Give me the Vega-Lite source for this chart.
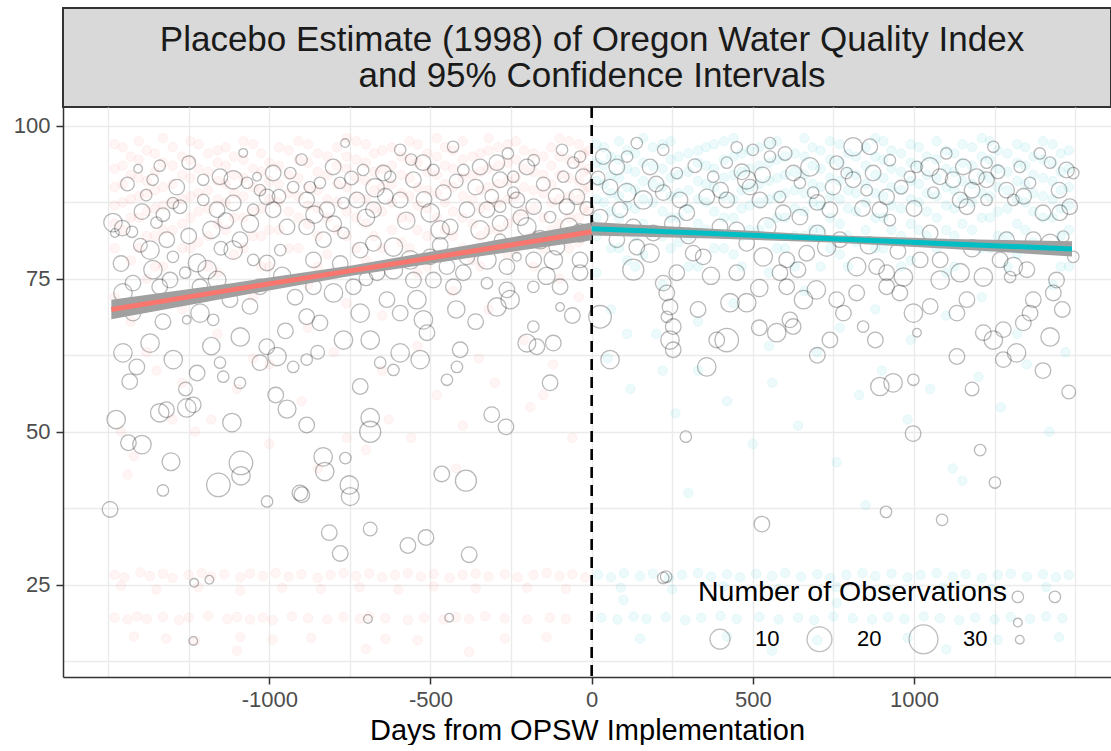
{
  "$schema": "https://vega.github.io/schema/vega-lite/v6.json",
  "background": "white",
  "padding": {"left": 13, "top": 7, "right": 0, "bottom": 0},
  "bounds": "flush",
  "spacing": 0,
  "config": {"font": "Liberation Sans", "view": {"stroke": null}},
  "datasets": {
    "pre": [
      {"x":-1480,"y":97},{"x":-1480,"y":93},{"x":-1480,"y":90},{"x":-1480,"y":87},{"x":-1480,"y":84},{"x":-1480,"y":80},{"x":-1480,"y":72},
      {"x":-1430,"y":95},{"x":-1430,"y":92},{"x":-1430,"y":88},{"x":-1430,"y":85},{"x":-1430,"y":78},{"x":-1430,"y":68},
      {"x":-1380,"y":96},{"x":-1380,"y":91},{"x":-1380,"y":89},{"x":-1380,"y":86},{"x":-1380,"y":82},{"x":-1380,"y":75},{"x":-1380,"y":63},
      {"x":-1330,"y":98},{"x":-1330,"y":94},{"x":-1330,"y":90},{"x":-1330,"y":87},{"x":-1330,"y":83},{"x":-1330,"y":77},
      {"x":-1270,"y":95},{"x":-1270,"y":92},{"x":-1270,"y":88},{"x":-1270,"y":84},{"x":-1270,"y":80},{"x":-1270,"y":70},{"x":-1270,"y":58},
      {"x":-1220,"y":97},{"x":-1220,"y":93},{"x":-1220,"y":89},{"x":-1220,"y":86},{"x":-1220,"y":81},
      {"x":-1160,"y":96},{"x":-1160,"y":94},{"x":-1160,"y":91},{"x":-1160,"y":88},{"x":-1160,"y":84},{"x":-1160,"y":76},{"x":-1160,"y":66},
      {"x":-1110,"y":95},{"x":-1110,"y":92},{"x":-1110,"y":89},{"x":-1110,"y":85},{"x":-1110,"y":79},
      {"x":-1050,"y":97},{"x":-1050,"y":93},{"x":-1050,"y":90},{"x":-1050,"y":86},{"x":-1050,"y":82},{"x":-1050,"y":72},
      {"x":-1000,"y":94},{"x":-1000,"y":91},{"x":-1000,"y":88},{"x":-1000,"y":83},{"x":-1000,"y":77},{"x":-1000,"y":61},
      {"x":-940,"y":96},{"x":-940,"y":92},{"x":-940,"y":89},{"x":-940,"y":86},{"x":-940,"y":80},
      {"x":-880,"y":97},{"x":-880,"y":94},{"x":-880,"y":90},{"x":-880,"y":87},{"x":-880,"y":84},{"x":-880,"y":74},{"x":-880,"y":67},
      {"x":-820,"y":95},{"x":-820,"y":92},{"x":-820,"y":88},{"x":-820,"y":85},{"x":-820,"y":79},
      {"x":-760,"y":98},{"x":-760,"y":95},{"x":-760,"y":93},{"x":-760,"y":90},{"x":-760,"y":86},{"x":-760,"y":82},{"x":-760,"y":71},
      {"x":-700,"y":97},{"x":-700,"y":94},{"x":-700,"y":91},{"x":-700,"y":88},{"x":-700,"y":84},{"x":-700,"y":78},
      {"x":-650,"y":96},{"x":-650,"y":93},{"x":-650,"y":90},{"x":-650,"y":86},{"x":-650,"y":80},{"x":-650,"y":69},
      {"x":-590,"y":95},{"x":-590,"y":92},{"x":-590,"y":89},{"x":-590,"y":85},{"x":-590,"y":81},
      {"x":-540,"y":97},{"x":-540,"y":94},{"x":-540,"y":90},{"x":-540,"y":87},{"x":-540,"y":83},{"x":-540,"y":76},{"x":-540,"y":64},
      {"x":-480,"y":98},{"x":-480,"y":95},{"x":-480,"y":92},{"x":-480,"y":89},{"x":-480,"y":85},
      {"x":-430,"y":96},{"x":-430,"y":93},{"x":-430,"y":90},{"x":-430,"y":86},{"x":-430,"y":82},{"x":-430,"y":73},
      {"x":-370,"y":95},{"x":-370,"y":92},{"x":-370,"y":88},{"x":-370,"y":84},{"x":-370,"y":78},
      {"x":-320,"y":98},{"x":-320,"y":96},{"x":-320,"y":93},{"x":-320,"y":90},{"x":-320,"y":87},{"x":-320,"y":83},{"x":-320,"y":70},
      {"x":-260,"y":97},{"x":-260,"y":94},{"x":-260,"y":91},{"x":-260,"y":88},{"x":-260,"y":84},{"x":-260,"y":79},
      {"x":-210,"y":96},{"x":-210,"y":93},{"x":-210,"y":90},{"x":-210,"y":86},{"x":-210,"y":81},{"x":-210,"y":65},
      {"x":-150,"y":95},{"x":-150,"y":92},{"x":-150,"y":89},{"x":-150,"y":85},{"x":-150,"y":80},
      {"x":-100,"y":98},{"x":-100,"y":95},{"x":-100,"y":92},{"x":-100,"y":88},{"x":-100,"y":84},{"x":-100,"y":75},
      {"x":-40,"y":97},{"x":-40,"y":94},{"x":-40,"y":91},{"x":-40,"y":88},{"x":-40,"y":85},{"x":-40,"y":81},{"x":-40,"y":72},
      {"x":-10,"y":96},{"x":-10,"y":93},{"x":-10,"y":90},{"x":-10,"y":86},
      {"x":-1455,"y":96.5},{"x":-1455,"y":93.5},{"x":-1455,"y":90.5},{"x":-1455,"y":87.5},{"x":-1455,"y":83},
      {"x":-1405,"y":97.5},{"x":-1405,"y":94.5},{"x":-1405,"y":91.5},{"x":-1405,"y":88.5},{"x":-1405,"y":85},{"x":-1405,"y":80},
      {"x":-1355,"y":95.5},{"x":-1355,"y":92.5},{"x":-1355,"y":89.5},{"x":-1355,"y":86.5},{"x":-1355,"y":82},{"x":-1355,"y":77},
      {"x":-1300,"y":96.5},{"x":-1300,"y":93.5},{"x":-1300,"y":90.5},{"x":-1300,"y":87.5},{"x":-1300,"y":83},
      {"x":-1245,"y":97.5},{"x":-1245,"y":94.5},{"x":-1245,"y":91.5},{"x":-1245,"y":88.5},{"x":-1245,"y":85},{"x":-1245,"y":80},
      {"x":-1190,"y":95.5},{"x":-1190,"y":92.5},{"x":-1190,"y":89.5},{"x":-1190,"y":86.5},{"x":-1190,"y":82},{"x":-1190,"y":77},
      {"x":-1135,"y":96.5},{"x":-1135,"y":93.5},{"x":-1135,"y":90.5},{"x":-1135,"y":87.5},{"x":-1135,"y":83},
      {"x":-1080,"y":97.5},{"x":-1080,"y":94.5},{"x":-1080,"y":91.5},{"x":-1080,"y":88.5},{"x":-1080,"y":85},{"x":-1080,"y":80},
      {"x":-1025,"y":95.5},{"x":-1025,"y":92.5},{"x":-1025,"y":89.5},{"x":-1025,"y":86.5},{"x":-1025,"y":82},{"x":-1025,"y":77},
      {"x":-970,"y":96.5},{"x":-970,"y":93.5},{"x":-970,"y":90.5},{"x":-970,"y":87.5},{"x":-970,"y":83},
      {"x":-910,"y":97.5},{"x":-910,"y":94.5},{"x":-910,"y":91.5},{"x":-910,"y":88.5},{"x":-910,"y":85},{"x":-910,"y":80},
      {"x":-850,"y":95.5},{"x":-850,"y":92.5},{"x":-850,"y":89.5},{"x":-850,"y":86.5},{"x":-850,"y":82},{"x":-850,"y":77},
      {"x":-790,"y":96.5},{"x":-790,"y":93.5},{"x":-790,"y":90.5},{"x":-790,"y":87.5},{"x":-790,"y":83},
      {"x":-730,"y":97.5},{"x":-730,"y":94.5},{"x":-730,"y":91.5},{"x":-730,"y":88.5},{"x":-730,"y":85},{"x":-730,"y":80},
      {"x":-675,"y":95.5},{"x":-675,"y":92.5},{"x":-675,"y":89.5},{"x":-675,"y":86.5},{"x":-675,"y":82},{"x":-675,"y":77},
      {"x":-620,"y":96.5},{"x":-620,"y":93.5},{"x":-620,"y":90.5},{"x":-620,"y":87.5},{"x":-620,"y":83},
      {"x":-565,"y":97.5},{"x":-565,"y":94.5},{"x":-565,"y":91.5},{"x":-565,"y":88.5},{"x":-565,"y":85},{"x":-565,"y":80},
      {"x":-510,"y":95.5},{"x":-510,"y":92.5},{"x":-510,"y":89.5},{"x":-510,"y":86.5},{"x":-510,"y":82},{"x":-510,"y":77},
      {"x":-455,"y":96.5},{"x":-455,"y":93.5},{"x":-455,"y":90.5},{"x":-455,"y":87.5},{"x":-455,"y":83},
      {"x":-400,"y":97.5},{"x":-400,"y":94.5},{"x":-400,"y":91.5},{"x":-400,"y":88.5},{"x":-400,"y":85},{"x":-400,"y":80},
      {"x":-345,"y":95.5},{"x":-345,"y":92.5},{"x":-345,"y":89.5},{"x":-345,"y":86.5},{"x":-345,"y":82},{"x":-345,"y":77},
      {"x":-290,"y":96.5},{"x":-290,"y":93.5},{"x":-290,"y":90.5},{"x":-290,"y":87.5},{"x":-290,"y":83},
      {"x":-235,"y":97.5},{"x":-235,"y":94.5},{"x":-235,"y":91.5},{"x":-235,"y":88.5},{"x":-235,"y":85},{"x":-235,"y":80},
      {"x":-180,"y":95.5},{"x":-180,"y":92.5},{"x":-180,"y":89.5},{"x":-180,"y":86.5},{"x":-180,"y":82},{"x":-180,"y":77},
      {"x":-125,"y":96.5},{"x":-125,"y":93.5},{"x":-125,"y":90.5},{"x":-125,"y":87.5},{"x":-125,"y":83},
      {"x":-70,"y":97.5},{"x":-70,"y":94.5},{"x":-70,"y":91.5},{"x":-70,"y":88.5},{"x":-70,"y":85},{"x":-70,"y":80},
      {"x":-25,"y":95.5},{"x":-25,"y":92.5},{"x":-25,"y":89.5},{"x":-25,"y":86.5},{"x":-25,"y":82},
      {"x":-1460,"y":50},{"x":-1420,"y":46},{"x":-1440,"y":43},{"x":-1300,"y":52},{"x":-1230,"y":50},{"x":-1180,"y":52},{"x":-1100,"y":57},{"x":-1000,"y":48},{"x":-900,"y":55},{"x":-760,"y":49},{"x":-700,"y":47},{"x":-630,"y":52},{"x":-560,"y":49},{"x":-480,"y":56},{"x":-400,"y":51},{"x":-300,"y":58},{"x":-190,"y":54},{"x":-120,"y":61},{"x":-60,"y":49},{"x":-850,"y":44},{"x":-420,"y":44},{"x":-1350,"y":60},{"x":-1050,"y":62},{"x":-800,"y":63},{"x":-650,"y":60},{"x":-350,"y":62},{"x":-150,"y":56},
      {"x":-1480,"y":26.6},{"x":-1450,"y":26.2},{"x":-1400,"y":27.0},{"x":-1370,"y":26.4},{"x":-1330,"y":26.8},{"x":-1300,"y":26.1},{"x":-1250,"y":26.6},{"x":-1210,"y":26.9},{"x":-1180,"y":26.3},{"x":-1140,"y":26.7},{"x":-1090,"y":26.2},{"x":-1060,"y":26.8},{"x":-1020,"y":26.4},{"x":-980,"y":26.9},{"x":-940,"y":26.3},{"x":-900,"y":26.7},{"x":-850,"y":26.1},{"x":-810,"y":26.6},{"x":-770,"y":26.9},{"x":-730,"y":26.4},{"x":-690,"y":26.8},{"x":-650,"y":26.2},{"x":-610,"y":26.6},{"x":-570,"y":26.9},{"x":-530,"y":26.3},{"x":-490,"y":26.7},{"x":-440,"y":26.1},{"x":-400,"y":26.6},{"x":-360,"y":26.8},{"x":-320,"y":26.3},{"x":-270,"y":26.7},{"x":-230,"y":26.2},{"x":-180,"y":26.6},{"x":-140,"y":26.9},{"x":-100,"y":26.4},{"x":-60,"y":26.7},{"x":-20,"y":26.2},
      {"x":-1460,"y":24.8},{"x":-1350,"y":24.2},{"x":-1220,"y":24.6},{"x":-1090,"y":24.0},{"x":-960,"y":24.5},{"x":-840,"y":24.3},{"x":-720,"y":24.6},{"x":-600,"y":24.2},{"x":-490,"y":24.7},{"x":-360,"y":24.4},{"x":-200,"y":24.5},{"x":-80,"y":24.3},
      {"x":-1480,"y":19.6},{"x":-1440,"y":19.3},{"x":-1410,"y":19.8},{"x":-1380,"y":19.4},{"x":-1330,"y":19.7},{"x":-1280,"y":19.2},{"x":-1250,"y":19.6},{"x":-1190,"y":19.9},{"x":-1130,"y":19.4},{"x":-1100,"y":19.7},{"x":-1060,"y":19.3},{"x":-1020,"y":19.6},{"x":-990,"y":19.2},{"x":-930,"y":19.8},{"x":-880,"y":19.5},{"x":-820,"y":19.3},{"x":-770,"y":19.7},{"x":-720,"y":19.4},{"x":-690,"y":19.8},{"x":-640,"y":19.5},{"x":-570,"y":19.2},{"x":-520,"y":19.6},{"x":-460,"y":19.3},{"x":-420,"y":19.7},{"x":-380,"y":19.4},{"x":-330,"y":19.8},{"x":-270,"y":19.5},{"x":-200,"y":19.3},{"x":-130,"y":19.6},{"x":-80,"y":19.4},
      {"x":-1420,"y":16.5},{"x":-1320,"y":16.2},{"x":-1230,"y":15.8},{"x":-1090,"y":16.4},{"x":-990,"y":16.0},{"x":-870,"y":16.3},{"x":-640,"y":16.1},{"x":-540,"y":15.9},{"x":-270,"y":16.2},{"x":-140,"y":16.4},
      {"x":-1100,"y":14.2},{"x":-700,"y":14.5},{"x":-380,"y":14.0}
    ],
    "post": [
      {"x":15,"y":97},{"x":15,"y":94},{"x":15,"y":91},{"x":15,"y":88},{"x":15,"y":85},{"x":15,"y":82},{"x":15,"y":76},
      {"x":60,"y":95},{"x":60,"y":92},{"x":60,"y":89},{"x":60,"y":86},{"x":60,"y":80},{"x":60,"y":70},
      {"x":110,"y":96},{"x":110,"y":93},{"x":110,"y":90},{"x":110,"y":87},{"x":110,"y":83},{"x":110,"y":78},{"x":110,"y":66},
      {"x":160,"y":98},{"x":160,"y":94},{"x":160,"y":91},{"x":160,"y":88},{"x":160,"y":84},{"x":160,"y":79},
      {"x":220,"y":97},{"x":220,"y":93},{"x":220,"y":90},{"x":220,"y":86},{"x":220,"y":82},{"x":220,"y":74},{"x":220,"y":60},
      {"x":270,"y":95},{"x":270,"y":92},{"x":270,"y":89},{"x":270,"y":85},{"x":270,"y":81},
      {"x":330,"y":96},{"x":330,"y":94},{"x":330,"y":91},{"x":330,"y":88},{"x":330,"y":84},{"x":330,"y":77},{"x":330,"y":68},
      {"x":380,"y":97},{"x":380,"y":93},{"x":380,"y":90},{"x":380,"y":86},{"x":380,"y":80},
      {"x":440,"y":98},{"x":440,"y":95},{"x":440,"y":92},{"x":440,"y":88},{"x":440,"y":85},{"x":440,"y":79},{"x":440,"y":71},
      {"x":490,"y":96},{"x":490,"y":93},{"x":490,"y":90},{"x":490,"y":87},{"x":490,"y":83},
      {"x":550,"y":97},{"x":550,"y":94},{"x":550,"y":91},{"x":550,"y":88},{"x":550,"y":84},{"x":550,"y":76},{"x":550,"y":64},
      {"x":600,"y":95},{"x":600,"y":92},{"x":600,"y":89},{"x":600,"y":85},{"x":600,"y":80},
      {"x":660,"y":98},{"x":660,"y":95},{"x":660,"y":92},{"x":660,"y":89},{"x":660,"y":86},{"x":660,"y":82},{"x":660,"y":73},
      {"x":710,"y":96},{"x":710,"y":93},{"x":710,"y":90},{"x":710,"y":87},{"x":710,"y":83},{"x":710,"y":77},
      {"x":770,"y":97},{"x":770,"y":94},{"x":770,"y":91},{"x":770,"y":88},{"x":770,"y":84},{"x":770,"y":79},{"x":770,"y":67},
      {"x":820,"y":95},{"x":820,"y":92},{"x":820,"y":89},{"x":820,"y":86},{"x":820,"y":81},
      {"x":880,"y":98},{"x":880,"y":95},{"x":880,"y":92},{"x":880,"y":89},{"x":880,"y":85},{"x":880,"y":80},{"x":880,"y":70},
      {"x":930,"y":96},{"x":930,"y":93},{"x":930,"y":90},{"x":930,"y":87},{"x":930,"y":83},
      {"x":990,"y":97},{"x":990,"y":94},{"x":990,"y":91},{"x":990,"y":88},{"x":990,"y":84},{"x":990,"y":78},{"x":990,"y":65},
      {"x":1040,"y":95},{"x":1040,"y":92},{"x":1040,"y":89},{"x":1040,"y":86},{"x":1040,"y":82},
      {"x":1100,"y":96},{"x":1100,"y":93},{"x":1100,"y":90},{"x":1100,"y":87},{"x":1100,"y":83},{"x":1100,"y":76},{"x":1100,"y":69},
      {"x":1150,"y":97},{"x":1150,"y":94},{"x":1150,"y":91},{"x":1150,"y":88},{"x":1150,"y":84},
      {"x":1210,"y":98},{"x":1210,"y":95},{"x":1210,"y":92},{"x":1210,"y":89},{"x":1210,"y":85},{"x":1210,"y":80},{"x":1210,"y":72},
      {"x":1260,"y":96},{"x":1260,"y":93},{"x":1260,"y":90},{"x":1260,"y":86},{"x":1260,"y":82},
      {"x":1320,"y":97},{"x":1320,"y":94},{"x":1320,"y":91},{"x":1320,"y":88},{"x":1320,"y":84},{"x":1320,"y":79},{"x":1320,"y":66},
      {"x":1370,"y":95},{"x":1370,"y":92},{"x":1370,"y":89},{"x":1370,"y":86},{"x":1370,"y":81},
      {"x":1430,"y":97},{"x":1430,"y":94},{"x":1430,"y":91},{"x":1430,"y":88},{"x":1430,"y":85},{"x":1430,"y":80},{"x":1430,"y":74},
      {"x":1480,"y":96},{"x":1480,"y":93},{"x":1480,"y":90},{"x":1480,"y":87},{"x":1480,"y":83},{"x":1480,"y":77},
      {"x":38,"y":96.5},{"x":38,"y":93.5},{"x":38,"y":90.5},{"x":38,"y":87.5},{"x":38,"y":83},
      {"x":85,"y":97.5},{"x":85,"y":94.5},{"x":85,"y":91.5},{"x":85,"y":88.5},{"x":85,"y":85},{"x":85,"y":80},
      {"x":135,"y":95.5},{"x":135,"y":92.5},{"x":135,"y":89.5},{"x":135,"y":86.5},{"x":135,"y":82},{"x":135,"y":77},
      {"x":190,"y":96.5},{"x":190,"y":93.5},{"x":190,"y":90.5},{"x":190,"y":87.5},{"x":190,"y":83},
      {"x":245,"y":97.5},{"x":245,"y":94.5},{"x":245,"y":91.5},{"x":245,"y":88.5},{"x":245,"y":85},{"x":245,"y":80},
      {"x":300,"y":95.5},{"x":300,"y":92.5},{"x":300,"y":89.5},{"x":300,"y":86.5},{"x":300,"y":82},{"x":300,"y":77},
      {"x":355,"y":96.5},{"x":355,"y":93.5},{"x":355,"y":90.5},{"x":355,"y":87.5},{"x":355,"y":83},
      {"x":410,"y":97.5},{"x":410,"y":94.5},{"x":410,"y":91.5},{"x":410,"y":88.5},{"x":410,"y":85},{"x":410,"y":80},
      {"x":465,"y":95.5},{"x":465,"y":92.5},{"x":465,"y":89.5},{"x":465,"y":86.5},{"x":465,"y":82},{"x":465,"y":77},
      {"x":520,"y":96.5},{"x":520,"y":93.5},{"x":520,"y":90.5},{"x":520,"y":87.5},{"x":520,"y":83},
      {"x":575,"y":97.5},{"x":575,"y":94.5},{"x":575,"y":91.5},{"x":575,"y":88.5},{"x":575,"y":85},{"x":575,"y":80},
      {"x":630,"y":95.5},{"x":630,"y":92.5},{"x":630,"y":89.5},{"x":630,"y":86.5},{"x":630,"y":82},{"x":630,"y":77},
      {"x":685,"y":96.5},{"x":685,"y":93.5},{"x":685,"y":90.5},{"x":685,"y":87.5},{"x":685,"y":83},
      {"x":740,"y":97.5},{"x":740,"y":94.5},{"x":740,"y":91.5},{"x":740,"y":88.5},{"x":740,"y":85},{"x":740,"y":80},
      {"x":795,"y":95.5},{"x":795,"y":92.5},{"x":795,"y":89.5},{"x":795,"y":86.5},{"x":795,"y":82},{"x":795,"y":77},
      {"x":850,"y":96.5},{"x":850,"y":93.5},{"x":850,"y":90.5},{"x":850,"y":87.5},{"x":850,"y":83},
      {"x":905,"y":97.5},{"x":905,"y":94.5},{"x":905,"y":91.5},{"x":905,"y":88.5},{"x":905,"y":85},{"x":905,"y":80},
      {"x":960,"y":95.5},{"x":960,"y":92.5},{"x":960,"y":89.5},{"x":960,"y":86.5},{"x":960,"y":82},{"x":960,"y":77},
      {"x":1015,"y":96.5},{"x":1015,"y":93.5},{"x":1015,"y":90.5},{"x":1015,"y":87.5},{"x":1015,"y":83},
      {"x":1070,"y":97.5},{"x":1070,"y":94.5},{"x":1070,"y":91.5},{"x":1070,"y":88.5},{"x":1070,"y":85},{"x":1070,"y":80},
      {"x":1125,"y":95.5},{"x":1125,"y":92.5},{"x":1125,"y":89.5},{"x":1125,"y":86.5},{"x":1125,"y":82},{"x":1125,"y":77},
      {"x":1180,"y":96.5},{"x":1180,"y":93.5},{"x":1180,"y":90.5},{"x":1180,"y":87.5},{"x":1180,"y":83},
      {"x":1235,"y":97.5},{"x":1235,"y":94.5},{"x":1235,"y":91.5},{"x":1235,"y":88.5},{"x":1235,"y":85},{"x":1235,"y":80},
      {"x":1290,"y":95.5},{"x":1290,"y":92.5},{"x":1290,"y":89.5},{"x":1290,"y":86.5},{"x":1290,"y":82},{"x":1290,"y":77},
      {"x":1345,"y":96.5},{"x":1345,"y":93.5},{"x":1345,"y":90.5},{"x":1345,"y":87.5},{"x":1345,"y":83},
      {"x":1400,"y":97.5},{"x":1400,"y":94.5},{"x":1400,"y":91.5},{"x":1400,"y":88.5},{"x":1400,"y":85},{"x":1400,"y":80},
      {"x":1455,"y":95.5},{"x":1455,"y":92.5},{"x":1455,"y":89.5},{"x":1455,"y":86.5},{"x":1455,"y":82},{"x":1455,"y":77},
      {"x":50,"y":62},{"x":120,"y":57},{"x":200,"y":66},{"x":260,"y":53},{"x":330,"y":60},{"x":420,"y":55},{"x":500,"y":48},{"x":560,"y":58},{"x":640,"y":51},{"x":700,"y":63},{"x":760,"y":45},{"x":830,"y":56},{"x":900,"y":60},{"x":980,"y":52},{"x":1050,"y":57},{"x":1120,"y":44},{"x":1200,"y":59},{"x":1270,"y":54},{"x":1350,"y":61},{"x":1420,"y":50},{"x":1470,"y":63},{"x":300,"y":40},{"x":850,"y":38},{"x":1150,"y":42},
      {"x":20,"y":26.6},{"x":60,"y":26.2},{"x":100,"y":26.9},{"x":150,"y":26.4},{"x":190,"y":26.8},{"x":240,"y":26.1},{"x":280,"y":26.6},{"x":330,"y":26.9},{"x":370,"y":26.3},{"x":420,"y":26.7},{"x":460,"y":26.2},{"x":510,"y":26.8},{"x":560,"y":26.4},{"x":600,"y":26.9},{"x":650,"y":26.3},{"x":700,"y":26.7},{"x":740,"y":26.1},{"x":790,"y":26.6},{"x":840,"y":26.9},{"x":880,"y":26.4},{"x":930,"y":26.8},{"x":980,"y":26.2},{"x":1020,"y":26.6},{"x":1070,"y":26.9},{"x":1120,"y":26.3},{"x":1160,"y":26.7},{"x":1210,"y":26.1},{"x":1260,"y":26.6},{"x":1300,"y":26.8},{"x":1350,"y":26.3},{"x":1400,"y":26.7},{"x":1440,"y":26.2},{"x":1480,"y":26.6},
      {"x":90,"y":24.5},{"x":250,"y":24.2},{"x":410,"y":24.7},{"x":580,"y":24.3},{"x":760,"y":24.6},{"x":920,"y":24.2},{"x":1090,"y":24.5},{"x":1240,"y":24.3},{"x":1410,"y":24.6},
      {"x":30,"y":19.6},{"x":80,"y":19.3},{"x":130,"y":19.8},{"x":170,"y":19.4},{"x":230,"y":19.7},{"x":290,"y":19.2},{"x":340,"y":19.6},{"x":400,"y":19.9},{"x":450,"y":19.4},{"x":520,"y":19.7},{"x":580,"y":19.3},{"x":640,"y":19.6},{"x":690,"y":19.2},{"x":750,"y":19.8},{"x":810,"y":19.5},{"x":870,"y":19.3},{"x":920,"y":19.7},{"x":970,"y":19.4},{"x":1030,"y":19.8},{"x":1080,"y":19.5},{"x":1140,"y":19.2},{"x":1190,"y":19.6},{"x":1250,"y":19.3},{"x":1300,"y":19.7},{"x":1360,"y":19.4},{"x":1410,"y":19.8},{"x":1460,"y":19.5},
      {"x":99,"y":22.5},{"x":760,"y":22.0},
      {"x":150,"y":16.2},{"x":420,"y":16.5},{"x":700,"y":15.9},{"x":980,"y":16.3},{"x":1260,"y":16.0},{"x":1450,"y":16.4},
      {"x":560,"y":14.2},{"x":1100,"y":14.4}
    ],
    "sites": [
      {"x":-1485,"y":84.2,"n":7},{"x":-1479,"y":82.5,"n":1},{"x":-1456,"y":83.3,"n":4},{"x":-1426,"y":82.7,"n":2},{"x":-1407,"y":93.0,"n":1},{"x":-1382,"y":88.7,"n":2},{"x":-1362,"y":91.2,"n":2},{"x":-1350,"y":84.2,"n":2},{"x":-1330,"y":85.5,"n":3},{"x":-1299,"y":87.4,"n":2},{"x":-1287,"y":90.0,"n":4},{"x":-1277,"y":86.8,"n":3},{"x":-1370,"y":79.7,"n":7},{"x":-1318,"y":81.4,"n":4},{"x":-1299,"y":78.6,"n":2},{"x":-1361,"y":76.5,"n":7},{"x":-1308,"y":74.8,"n":4},{"x":-1261,"y":76.0,"n":2},{"x":-1224,"y":77.6,"n":6},{"x":-1193,"y":76.5,"n":7},{"x":-1215,"y":73.7,"n":4},{"x":-1162,"y":74.8,"n":6},{"x":-1112,"y":79.7,"n":7},{"x":-1091,"y":81.4,"n":4},{"x":-1050,"y":78.1,"n":2},{"x":-1007,"y":77.6,"n":4},{"x":-966,"y":79.7,"n":2},{"x":-945,"y":83.5,"n":4},{"x":-988,"y":86.3,"n":4},{"x":-1050,"y":86.3,"n":2},{"x":-1112,"y":87.4,"n":4},{"x":-1162,"y":86.3,"n":4},{"x":-1205,"y":87.9,"n":2},{"x":-1205,"y":91.2,"n":2},{"x":-1153,"y":91.7,"n":4},{"x":-1112,"y":91.2,"n":7},{"x":-1069,"y":90.7,"n":2},{"x":-1029,"y":89.5,"n":2},{"x":-1007,"y":88.4,"n":4},{"x":-988,"y":92.3,"n":4},{"x":-935,"y":92.3,"n":2},{"x":-926,"y":90.0,"n":2},{"x":-1081,"y":95.6,"n":1},{"x":-1038,"y":91.7,"n":1},{"x":-1454,"y":72.7,"n":7},{"x":-1423,"y":74.3,"n":4},{"x":-1423,"y":69.4,"n":4},{"x":-1340,"y":73.7,"n":4},{"x":-1454,"y":62.9,"n":7},{"x":-1370,"y":64.5,"n":7},{"x":-1411,"y":60.6,"n":4},{"x":-1433,"y":58.2,"n":4},{"x":-1298,"y":61.8,"n":7},{"x":-1224,"y":59.6,"n":4},{"x":-1215,"y":69.4,"n":7},{"x":-1256,"y":68.3,"n":1},{"x":-1174,"y":68.3,"n":2},{"x":-1122,"y":71.6,"n":4},{"x":-1060,"y":70.5,"n":4},{"x":-1029,"y":73.7,"n":4},{"x":-1090,"y":65.5,"n":7},{"x":-1153,"y":61.3,"n":2},{"x":-1143,"y":59.0,"n":2},{"x":-1091,"y":58.0,"n":2},{"x":-1029,"y":61.3,"n":4},{"x":-1008,"y":63.9,"n":4},{"x":-976,"y":62.3,"n":7},{"x":-926,"y":60.6,"n":2},
      {"x":-1475,"y":52.0,"n":7},{"x":-1437,"y":48.2,"n":4},{"x":-1395,"y":47.9,"n":7},{"x":-1340,"y":53.1,"n":7},{"x":-1319,"y":53.6,"n":4},{"x":-1256,"y":53.9,"n":7},{"x":-1236,"y":54.4,"n":4},{"x":-1305,"y":45.1,"n":6},{"x":-1330,"y":40.4,"n":2},{"x":-1494,"y":37.3,"n":4},{"x":-1158,"y":41.3,"n":17},{"x":-1088,"y":44.9,"n":17},{"x":-1088,"y":42.8,"n":7},{"x":-1116,"y":51.5,"n":7},{"x":-1007,"y":38.6,"n":2},{"x":-945,"y":53.7,"n":6},{"x":-905,"y":40.0,"n":4},{"x":-1233,"y":25.3,"n":1},{"x":-1186,"y":25.8,"n":1},{"x":-1236,"y":15.8,"n":1},
      {"x":-765,"y":97.2,"n":1},{"x":-594,"y":96.1,"n":2},{"x":-430,"y":96.6,"n":2},{"x":-92,"y":96.1,"n":2},{"x":-802,"y":93.3,"n":4},{"x":-709,"y":92.8,"n":2},{"x":-672,"y":89.9,"n":7},{"x":-646,"y":92.3,"n":4},{"x":-625,"y":91.7,"n":2},{"x":-553,"y":91.2,"n":4},{"x":-523,"y":94.0,"n":4},{"x":-491,"y":92.8,"n":2},{"x":-460,"y":89.1,"n":4},{"x":-398,"y":92.8,"n":2},{"x":-346,"y":93.3,"n":4},{"x":-294,"y":94.0,"n":4},{"x":-284,"y":91.2,"n":4},{"x":-243,"y":91.7,"n":2},{"x":-201,"y":93.3,"n":4},{"x":-180,"y":94.4,"n":2},{"x":-243,"y":89.1,"n":2},{"x":-88,"y":91.7,"n":2},{"x":-57,"y":94.0,"n":2},{"x":-36,"y":95.0,"n":2},{"x":-26,"y":91.7,"n":4},{"x":-874,"y":90.0,"n":2},{"x":-843,"y":90.7,"n":2},{"x":-781,"y":90.7,"n":2},{"x":-884,"y":87.9,"n":4},{"x":-821,"y":86.3,"n":4},{"x":-770,"y":87.4,"n":2},{"x":-728,"y":87.9,"n":4},{"x":-677,"y":86.3,"n":4},{"x":-594,"y":87.9,"n":4},{"x":-501,"y":85.8,"n":7},{"x":-470,"y":83.0,"n":7},{"x":-439,"y":83.5,"n":4},{"x":-387,"y":86.3,"n":4},{"x":-325,"y":86.3,"n":4},{"x":-284,"y":86.8,"n":2},{"x":-232,"y":87.9,"n":4},{"x":-180,"y":86.8,"n":4},{"x":-129,"y":85.1,"n":2},{"x":-77,"y":86.8,"n":4},{"x":-46,"y":88.4,"n":4},{"x":-201,"y":83.5,"n":7},{"x":-284,"y":84.1,"n":4},{"x":-346,"y":83.0,"n":7},{"x":-284,"y":81.4,"n":2},{"x":-160,"y":81.4,"n":7},{"x":-108,"y":80.2,"n":4},{"x":-36,"y":82.5,"n":7},{"x":-36,"y":78.1,"n":4},{"x":-119,"y":78.1,"n":7},{"x":-180,"y":78.1,"n":4},{"x":-232,"y":78.6,"n":1},{"x":-263,"y":77.0,"n":4},{"x":-325,"y":78.1,"n":7},{"x":-387,"y":78.6,"n":4},{"x":-398,"y":76.0,"n":4},{"x":-449,"y":77.0,"n":4},{"x":-501,"y":78.6,"n":4},{"x":-563,"y":78.1,"n":7},{"x":-615,"y":80.2,"n":7},{"x":-677,"y":80.8,"n":4},{"x":-718,"y":79.7,"n":4},{"x":-770,"y":82.5,"n":2},{"x":-832,"y":81.4,"n":4},{"x":-884,"y":83.5,"n":4},{"x":-863,"y":78.1,"n":4},{"x":-801,"y":72.7,"n":7},{"x":-863,"y":73.7,"n":4},{"x":-739,"y":73.7,"n":4},{"x":-666,"y":76.0,"n":4},{"x":-615,"y":76.5,"n":7},{"x":-553,"y":74.8,"n":4},{"x":-491,"y":74.8,"n":4},{"x":-429,"y":73.7,"n":4},{"x":-325,"y":74.3,"n":2},{"x":-263,"y":73.2,"n":4},{"x":-181,"y":73.7,"n":2},{"x":-98,"y":73.7,"n":4},{"x":-36,"y":76.0,"n":4},{"x":-884,"y":68.8,"n":4},{"x":-843,"y":67.8,"n":4},{"x":-770,"y":65.0,"n":7},{"x":-687,"y":65.0,"n":7},{"x":-718,"y":69.4,"n":7},{"x":-635,"y":71.6,"n":4},{"x":-594,"y":69.4,"n":4},{"x":-542,"y":71.6,"n":7},{"x":-522,"y":68.3,"n":7},{"x":-511,"y":66.2,"n":4},{"x":-594,"y":62.9,"n":7},{"x":-532,"y":61.8,"n":7},{"x":-656,"y":61.3,"n":2},{"x":-615,"y":60.1,"n":2},{"x":-718,"y":57.4,"n":4},{"x":-884,"y":61.8,"n":2},{"x":-449,"y":58.5,"n":2},{"x":-408,"y":63.4,"n":4},{"x":-418,"y":60.6,"n":2},{"x":-294,"y":70.4,"n":7},{"x":-253,"y":71.6,"n":7},{"x":-201,"y":64.5,"n":6},{"x":-181,"y":67.2,"n":2},{"x":-170,"y":63.9,"n":4},{"x":-119,"y":64.5,"n":4},{"x":-98,"y":70.4,"n":1},{"x":-129,"y":58.0,"n":4},
      {"x":-884,"y":51.1,"n":4},{"x":-687,"y":52.3,"n":7},{"x":-687,"y":50.0,"n":12},{"x":-310,"y":52.8,"n":4},{"x":-266,"y":50.8,"n":4},{"x":-833,"y":45.9,"n":7},{"x":-764,"y":45.7,"n":2},{"x":-828,"y":43.5,"n":7},{"x":-752,"y":41.3,"n":7},{"x":-749,"y":39.4,"n":6},{"x":-899,"y":39.7,"n":4},{"x":-465,"y":43.1,"n":4},{"x":-390,"y":42.0,"n":12},{"x":-814,"y":33.5,"n":4},{"x":-687,"y":34.1,"n":3},{"x":-780,"y":30.1,"n":4},{"x":-570,"y":31.4,"n":4},{"x":-514,"y":32.7,"n":4},{"x":-380,"y":29.9,"n":4},{"x":-694,"y":19.4,"n":1},{"x":-442,"y":19.6,"n":1},
      {"x":-1440,"y":90.5,"n":3},{"x":-1395,"y":86.0,"n":4},{"x":-1340,"y":93.5,"n":2},{"x":-1250,"y":94.0,"n":3},{"x":-1180,"y":83.0,"n":5},{"x":-1135,"y":84.5,"n":4},{"x":-1060,"y":84.0,"n":5},{"x":-970,"y":88.5,"n":3},{"x":-900,"y":94.5,"n":2},{"x":-860,"y":85.5,"n":5},{"x":-800,"y":84.0,"n":4},{"x":-745,"y":91.5,"n":3},{"x":-700,"y":85.0,"n":5},{"x":-640,"y":88.5,"n":4},{"x":-575,"y":84.5,"n":5},{"x":-560,"y":94.5,"n":2},{"x":-520,"y":88.0,"n":4},{"x":-420,"y":91.0,"n":3},{"x":-360,"y":90.0,"n":4},{"x":-310,"y":88.5,"n":3},{"x":-260,"y":95.5,"n":2},{"x":-220,"y":85.0,"n":4},{"x":-150,"y":90.5,"n":3},{"x":-110,"y":88.5,"n":4},{"x":-70,"y":83.5,"n":5},{"x":-15,"y":86.5,"n":3},{"x":-1460,"y":77.5,"n":4},{"x":-1400,"y":80.5,"n":3},{"x":-1250,"y":82.0,"n":4},{"x":-1150,"y":80.0,"n":3},{"x":-960,"y":75.5,"n":5},{"x":-920,"y":72.0,"n":4},{"x":-780,"y":77.5,"n":4},{"x":-700,"y":75.0,"n":3},{"x":-470,"y":80.5,"n":4},{"x":-420,"y":70.0,"n":5},{"x":-360,"y":68.0,"n":4},{"x":-140,"y":75.5,"n":5},{"x":-60,"y":69.0,"n":4},{"x":-1330,"y":68.0,"n":4},{"x":-1180,"y":64.0,"n":5},{"x":-950,"y":66.5,"n":4},{"x":-850,"y":63.0,"n":3},{"x":-1260,"y":57.0,"n":3},{"x":-980,"y":56.0,"n":4},
      {"x":26,"y":68.8,"n":15},{"x":140,"y":97.2,"n":2},{"x":36,"y":95.0,"n":4},{"x":78,"y":93.3,"n":4},{"x":222,"y":96.1,"n":2},{"x":264,"y":92.3,"n":2},{"x":181,"y":93.3,"n":4},{"x":57,"y":90.0,"n":4},{"x":109,"y":89.1,"n":7},{"x":160,"y":87.9,"n":7},{"x":222,"y":89.1,"n":4},{"x":274,"y":87.9,"n":4},{"x":295,"y":85.8,"n":4},{"x":26,"y":85.1,"n":4},{"x":88,"y":86.3,"n":4},{"x":129,"y":83.5,"n":4},{"x":191,"y":82.5,"n":4},{"x":78,"y":81.4,"n":4},{"x":140,"y":80.2,"n":4},{"x":181,"y":79.2,"n":7},{"x":315,"y":79.2,"n":4},{"x":264,"y":76.0,"n":4},{"x":129,"y":76.5,"n":12},{"x":222,"y":74.3,"n":4},{"x":233,"y":72.7,"n":4},{"x":243,"y":70.4,"n":4},{"x":233,"y":68.8,"n":2},{"x":253,"y":67.2,"n":4},{"x":243,"y":65.0,"n":7},{"x":253,"y":63.4,"n":4},{"x":57,"y":61.8,"n":7},{"x":231,"y":26.3,"n":2},{"x":292,"y":49.2,"n":2},
      {"x":500,"y":96.1,"n":2},{"x":553,"y":97.2,"n":2},{"x":553,"y":95.0,"n":2},{"x":466,"y":92.5,"n":4},{"x":481,"y":91.2,"n":7},{"x":491,"y":90.0,"n":4},{"x":419,"y":94.0,"n":2},{"x":377,"y":91.7,"n":2},{"x":357,"y":88.4,"n":4},{"x":419,"y":87.9,"n":4},{"x":522,"y":87.9,"n":4},{"x":584,"y":88.4,"n":2},{"x":626,"y":92.3,"n":4},{"x":646,"y":90.7,"n":2},{"x":677,"y":93.3,"n":7},{"x":687,"y":89.1,"n":2},{"x":739,"y":86.3,"n":4},{"x":749,"y":90.0,"n":4},{"x":791,"y":92.3,"n":2},{"x":811,"y":91.2,"n":4},{"x":811,"y":96.6,"n":7},{"x":863,"y":96.6,"n":4},{"x":873,"y":92.3,"n":4},{"x":853,"y":89.5,"n":2},{"x":915,"y":88.4,"n":4},{"x":925,"y":94.4,"n":2},{"x":894,"y":86.3,"n":4},{"x":925,"y":84.6,"n":2},{"x":987,"y":91.7,"n":2},{"x":1008,"y":93.3,"n":2},{"x":1049,"y":93.3,"n":7},{"x":1080,"y":91.7,"n":4},{"x":1121,"y":91.2,"n":4},{"x":1153,"y":93.3,"n":4},{"x":1194,"y":91.7,"n":4},{"x":1225,"y":94.0,"n":2},{"x":1246,"y":96.6,"n":2},{"x":1225,"y":91.2,"n":4},{"x":1287,"y":89.5,"n":4},{"x":1328,"y":93.3,"n":2},{"x":1360,"y":90.7,"n":2},{"x":1422,"y":94.0,"n":2},{"x":1473,"y":92.8,"n":4},{"x":1494,"y":92.3,"n":2},{"x":1060,"y":89.1,"n":2},{"x":1143,"y":87.9,"n":4},{"x":1164,"y":86.8,"n":4},{"x":1225,"y":87.9,"n":2},{"x":1308,"y":87.9,"n":2},{"x":1400,"y":85.8,"n":4},{"x":1452,"y":85.8,"n":4},{"x":1483,"y":86.8,"n":4},{"x":1494,"y":78.6,"n":2},{"x":1370,"y":81.4,"n":4},{"x":1422,"y":80.8,"n":7},{"x":1463,"y":81.9,"n":2},{"x":1287,"y":81.4,"n":4},{"x":1267,"y":78.1,"n":4},{"x":1308,"y":77.0,"n":7},{"x":1298,"y":75.3,"n":2},{"x":1215,"y":75.3,"n":7},{"x":1143,"y":76.0,"n":7},{"x":1081,"y":78.1,"n":4},{"x":1019,"y":78.1,"n":4},{"x":967,"y":75.3,"n":7},{"x":915,"y":76.0,"n":4},{"x":915,"y":73.7,"n":4},{"x":956,"y":72.7,"n":4},{"x":998,"y":69.4,"n":7},{"x":1081,"y":74.8,"n":7},{"x":1133,"y":69.4,"n":4},{"x":1164,"y":71.6,"n":4},{"x":1215,"y":66.2,"n":4},{"x":1246,"y":65.0,"n":7},{"x":1318,"y":62.9,"n":7},{"x":1277,"y":66.7,"n":4},{"x":1360,"y":69.4,"n":4},{"x":1370,"y":71.6,"n":4},{"x":1432,"y":72.7,"n":4},{"x":1442,"y":74.8,"n":4},{"x":1339,"y":67.8,"n":4},{"x":1422,"y":65.5,"n":7},{"x":1133,"y":62.3,"n":4},{"x":1277,"y":61.8,"n":4},{"x":1009,"y":66.2,"n":1},{"x":894,"y":57.4,"n":7},{"x":935,"y":58.0,"n":7},{"x":998,"y":58.5,"n":2},{"x":842,"y":67.2,"n":2},{"x":739,"y":65.0,"n":4},{"x":781,"y":69.4,"n":4},{"x":822,"y":72.7,"n":4},{"x":760,"y":71.6,"n":4},{"x":697,"y":73.2,"n":7},{"x":657,"y":71.6,"n":7},{"x":605,"y":73.7,"n":4},{"x":584,"y":76.0,"n":4},{"x":625,"y":67.2,"n":4},{"x":574,"y":66.2,"n":7},{"x":615,"y":68.3,"n":4},{"x":419,"y":65.0,"n":17},{"x":388,"y":65.0,"n":4},{"x":481,"y":71.1,"n":7},{"x":429,"y":71.1,"n":7},{"x":357,"y":60.6,"n":7},{"x":667,"y":79.2,"n":4},{"x":729,"y":80.2,"n":7},{"x":770,"y":81.4,"n":4},{"x":822,"y":77.0,"n":7},{"x":884,"y":77.0,"n":4},{"x":605,"y":78.1,"n":4},{"x":532,"y":78.6,"n":7},{"x":481,"y":80.8,"n":4},{"x":346,"y":78.6,"n":4},{"x":398,"y":83.5,"n":4},{"x":450,"y":83.0,"n":4},{"x":543,"y":83.5,"n":7},{"x":594,"y":85.8,"n":4},{"x":646,"y":85.1,"n":4},
      {"x":528,"y":34.9,"n":4},{"x":913,"y":36.9,"n":2},{"x":997,"y":49.7,"n":4},{"x":1087,"y":35.6,"n":2},{"x":1205,"y":47.0,"n":2},{"x":1251,"y":41.7,"n":2},{"x":1322,"y":23.0,"n":2},{"x":1437,"y":23.0,"n":2},{"x":1322,"y":18.8,"n":1},{"x":1328,"y":16.0,"n":1},{"x":222,"y":26.1,"n":2},
      {"x":20,"y":91.5,"n":3},{"x":110,"y":95.0,"n":2},{"x":200,"y":90.5,"n":4},{"x":250,"y":84.0,"n":4},{"x":320,"y":93.5,"n":3},{"x":400,"y":89.5,"n":4},{"x":450,"y":96.5,"n":2},{"x":530,"y":92.0,"n":4},{"x":600,"y":95.5,"n":3},{"x":700,"y":87.5,"n":4},{"x":760,"y":94.0,"n":3},{"x":840,"y":86.5,"n":4},{"x":960,"y":90.0,"n":3},{"x":1000,"y":86.5,"n":4},{"x":1100,"y":95.5,"n":2},{"x":1180,"y":89.5,"n":4},{"x":1260,"y":92.5,"n":3},{"x":1340,"y":88.5,"n":4},{"x":1390,"y":95.5,"n":2},{"x":1450,"y":89.5,"n":4},{"x":300,"y":82.0,"n":4},{"x":370,"y":75.5,"n":5},{"x":450,"y":76.0,"n":4},{"x":520,"y":73.5,"n":5},{"x":640,"y":76.5,"n":4},{"x":700,"y":82.5,"n":4},{"x":860,"y":80.5,"n":5},{"x":950,"y":79.5,"n":4},{"x":1050,"y":82.5,"n":4},{"x":1180,"y":80.0,"n":5},{"x":1350,"y":76.5,"n":4},{"x":1460,"y":70.0,"n":4},{"x":330,"y":70.0,"n":4},{"x":520,"y":67.0,"n":4},{"x":700,"y":62.5,"n":4},{"x":880,"y":65.0,"n":4},{"x":1050,"y":70.5,"n":4},{"x":1180,"y":57.0,"n":3},{"x":1400,"y":60.0,"n":4},{"x":1480,"y":56.5,"n":3}
    ],
    "fit": [
      {"g":"pre","x":-1490,"fit":70.0,"lo":68.4,"hi":71.6},
      {"g":"pre","x":-1117,"fit":73.2,"lo":72.0,"hi":74.3},
      {"g":"pre","x":-745,"fit":76.35,"lo":75.5,"hi":77.2},
      {"g":"pre","x":-372,"fit":79.5,"lo":78.5,"hi":80.6},
      {"g":"pre","x":0,"fit":82.7,"lo":81.3,"hi":84.2},
      {"g":"post","x":0,"fit":83.2,"lo":82.1,"hi":84.3},
      {"g":"post","x":372,"fit":82.4,"lo":81.6,"hi":83.2},
      {"g":"post","x":745,"fit":81.55,"lo":80.95,"hi":82.15},
      {"g":"post","x":1117,"fit":80.7,"lo":79.9,"hi":81.5},
      {"g":"post","x":1490,"fit":79.9,"lo":78.65,"hi":81.15}
    ]
  },
  "vconcat": [
    {
      "width": 1048,
      "height": 99,
      "view": {"fill": "#D9D9D9", "stroke": "#333333", "strokeWidth": 2},
      "data": {"values": [{"t": ["Placebo Estimate (1998) of Oregon Water Quality Index", "and 95% Confidence Intervals"]}]},
      "mark": {"type": "text", "fontSize": 35, "lineHeight": 36, "align": "center", "baseline": "middle", "dy": -18, "dx": 5, "color": "#1A1A1A"},
      "encoding": {"text": {"field": "t", "type": "nominal"}}
    },
    {
      "width": 1048,
      "height": 570,
      "layer": [
        {
          "data": {"name": "pre"},
          "mark": {"type": "circle", "color": "#F8766D", "fillOpacity": 0.075, "stroke": "#F8766D", "strokeOpacity": 0.07, "strokeWidth": 1, "size": 90},
          "encoding": {
            "x": {"field": "x", "type": "quantitative", "scale": {"domain": [-1640, 1611], "nice": false, "zero": false},
              "axis": {
                "values": [-1500, -1250, -1000, -750, -500, -250, 0, 250, 500, 750, 1000, 1250, 1500],
                "labelExpr": "(datum.value % 500 == 0 && abs(datum.value) < 1500) ? (datum.value < 0 ? '-' + abs(datum.value) : '' + datum.value) : ''",
                "tickOpacity": {"condition": {"test": "datum.value % 500 == 0 && abs(datum.value) < 1500", "value": 1}, "value": 0},
                "grid": true, "gridColor": "#EBEBEB", "gridWidth": 1.4,
                "domainColor": "#333333", "domainWidth": 1.5, "tickColor": "#333333", "tickWidth": 1.5, "tickSize": 7,
                "labelFontSize": 22, "labelColor": "#4D4D4D", "labelPadding": 5, "labelFlush": false, "labelOverlap": false,
                "title": "Days from OPSW Implementation", "titleFontSize": 29, "titleFontWeight": "normal", "titleColor": "#000000", "titlePadding": 6
              }},
            "y": {"field": "y", "type": "quantitative", "scale": {"domain": [9.9, 103.1], "nice": false, "zero": false},
              "axis": {
                "values": [12.5, 25, 37.5, 50, 62.5, 75, 87.5, 100],
                "labelExpr": "datum.value % 25 == 0 ? '' + datum.value : ''",
                "tickOpacity": {"condition": {"test": "datum.value % 25 == 0", "value": 1}, "value": 0},
                "grid": true, "gridColor": "#EBEBEB", "gridWidth": 1.4,
                "domainColor": "#333333", "domainWidth": 1.5, "tickColor": "#333333", "tickWidth": 1.5, "tickSize": 7,
                "labelFontSize": 22, "labelColor": "#4D4D4D", "labelPadding": 6, "labelFlush": false, "labelOverlap": false,
                "title": null
              }}
          }
        },
        {
          "data": {"name": "post"},
          "mark": {"type": "circle", "color": "#00BFC4", "fillOpacity": 0.075, "stroke": "#00BFC4", "strokeOpacity": 0.07, "strokeWidth": 1, "size": 90},
          "encoding": {
            "x": {"field": "x", "type": "quantitative"},
            "y": {"field": "y", "type": "quantitative"}
          }
        },
        {
          "data": {"name": "sites"},
          "mark": {"type": "point", "shape": "circle", "filled": false, "color": "#000000", "opacity": 0.27, "strokeWidth": 1.3, "clip": true},
          "encoding": {
            "x": {"field": "x", "type": "quantitative"},
            "y": {"field": "y", "type": "quantitative"},
            "size": {"field": "n", "type": "quantitative",
              "scale": {"type": "linear", "domain": [1, 5, 10, 20, 30, 40, 50], "range": [75, 300, 400, 616, 830, 1035, 1232]},
              "legend": {
                "title": "Number of Observations", "orient": "none", "legendX": 635, "legendY": 570, "direction": "horizontal",
                "values": [10, 20, 30],
                "titleFontSize": 28.5, "titleFontWeight": "normal", "titleColor": "#000000", "titlePadding": 17, "titleLimit": 600,
                "labelFontSize": 22, "labelColor": "#000000", "labelOffset": 24, "columnPadding": 15, "symbolOffset": 11,
                "symbolType": "circle", "symbolFillColor": "transparent", "symbolStrokeColor": "#000000", "symbolOpacity": 0.25, "symbolStrokeWidth": 1.3
              }}
          }
        },
        {
          "data": {"values": [{}]},
          "mark": {"type": "rule", "color": "#000000", "strokeWidth": 2.6, "strokeDash": [11, 7]},
          "encoding": {"x": {"datum": 0, "type": "quantitative"}}
        },
        {
          "data": {"name": "fit"},
          "mark": {"type": "area", "color": "#A0A0A0", "opacity": 1},
          "encoding": {
            "x": {"field": "x", "type": "quantitative"},
            "y": {"field": "lo", "type": "quantitative"},
            "y2": {"field": "hi"},
            "detail": {"field": "g", "type": "nominal"}
          }
        },
        {
          "data": {"name": "fit"},
          "mark": {"type": "line", "strokeWidth": 5},
          "encoding": {
            "x": {"field": "x", "type": "quantitative"},
            "y": {"field": "fit", "type": "quantitative"},
            "color": {"field": "g", "type": "nominal", "scale": {"domain": ["pre", "post"], "range": ["#F8766D", "#00BFC4"]}, "legend": null}
          }
        }
      ]
    }
  ]
}
